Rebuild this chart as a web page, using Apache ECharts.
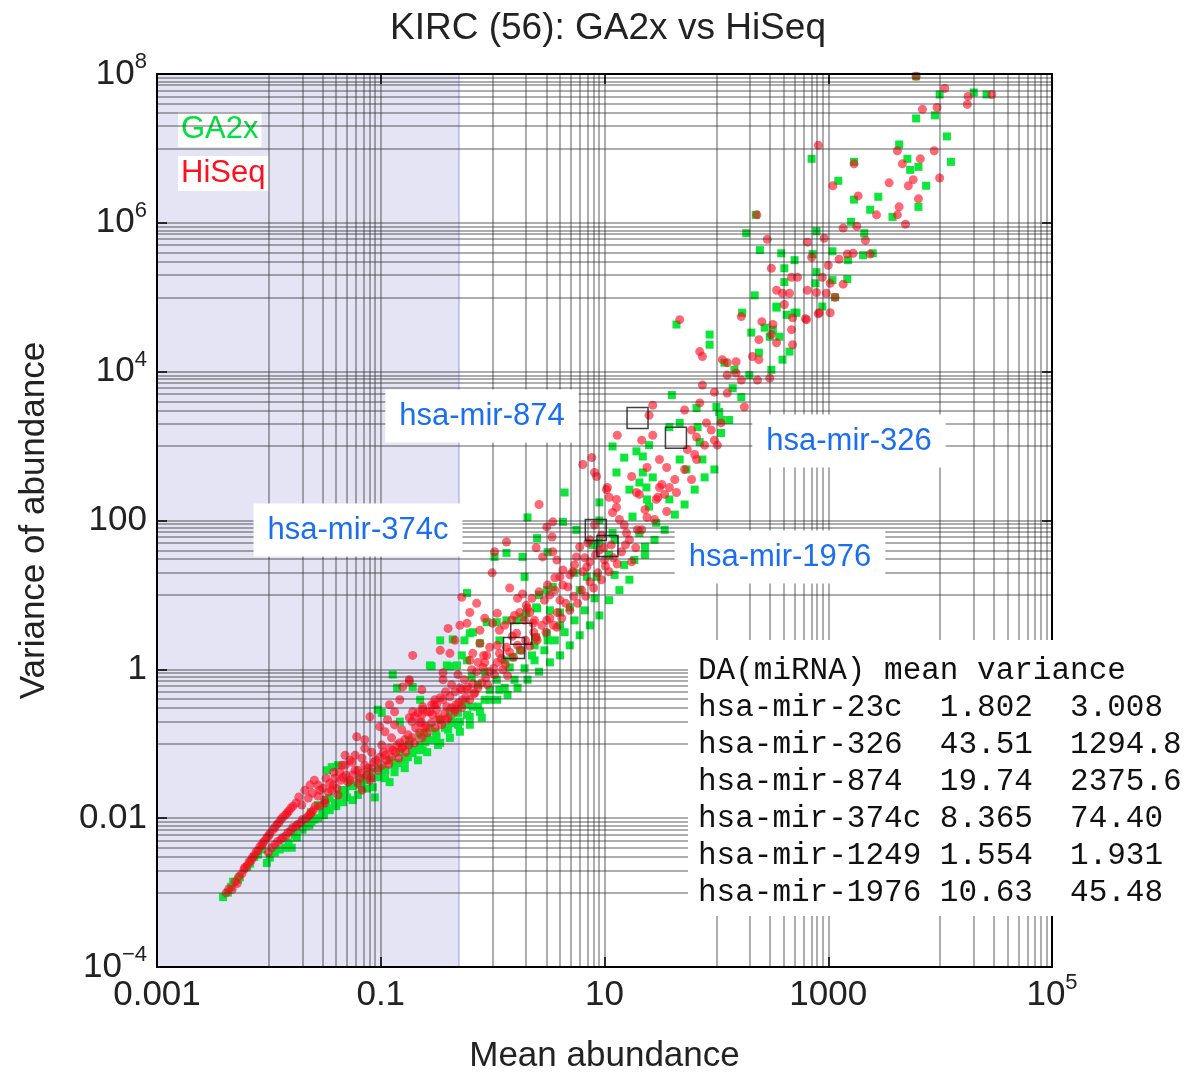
<!DOCTYPE html>
<html><head><meta charset="utf-8">
<script src="https://cdn.jsdelivr.net/npm/echarts@6/dist/echarts.min.js"></script>
<style>html,body{margin:0;padding:0;background:#fff}#c{width:1187px;height:1077px}</style>
</head><body><div id="c"></div>
<script>
// ---- tick labels (exponents of 10 and their texts) ----
const xTickExps = [-3, -1, 1, 3, 5];
const xTickLabels = ['0.001', '0.1', '10', '1000', '10^5'];
const yTickExps = [-4, -2, 0, 2, 4, 6, 8];
const yTickLabels = ['10^-4', '0.01', '1', '100', '10^4', '10^6', '10^8'];
const gridMantissas = [1, 2, 3, 4, 5, 6, 7, 8, 9];
const xMinorDecades = [-2, 0, 2, 4];
const yMinorDecades = [-3, -1, 1, 3, 5, 7];
const shadeUpperMean = 0.5;

// ---- differentially abundant miRNAs ----
const daNames = ['hsa-mir-23c', 'hsa-mir-326', 'hsa-mir-874', 'hsa-mir-374c', 'hsa-mir-1249', 'hsa-mir-1976'];
const daMean = [1.802, 43.51, 19.74, 8.365, 1.554, 10.63];
const daVar = [3.008, 1294.8, 2375.6, 74.40, 1.931, 45.48];
const labelledNames = ['hsa-mir-874', 'hsa-mir-326', 'hsa-mir-374c', 'hsa-mir-1976'];

// ---- GA2x points [mean, variance] ----
const ga2xPoints = [
[3.9e-3,8.7e-4],[4.3e-3,1.0e-3],[4.8e-3,1.4e-3],[5.5e-3,1.6e-3],[6.4e-3,2.2e-3],[7.4e-3,3.0e-3],[8.7e-3,3.8e-3],[9.6e-3,2.5e-3],[1.13e-2,3.45e-3],[1.4e-2,4.0e-3],[1.6e-2,4.0e-3],[1.78e-2,5.5e-3],[2.0e-2,7.0e-3],[2.15e-2,8.0e-3],[2.4e-2,9.0e-3],[2.75e-2,1.0e-2],[3.0e-2,1.2e-2],[3.3e-2,1.36e-2],
[4.6e-3,1.2e-3],[5.3e-3,1.5e-3],[6.8e-3,2.45e-3],[8.0e-3,3.24e-3],[1.02e-2,2.95e-3],[1.25e-2,3.8e-3],[1.5e-2,4.7e-3],[1.7e-2,6.0e-3],[2.3e-2,8.0e-3],[2.55e-2,9.6e-3],[3.1e-2,1.1e-2],[3.5e-2,1.28e-2],[4.0e-2,1.45e-2],[4.6e-2,1.64e-2],
[3.3e-2,4.4e-2],[3.65e-2,4.85e-2],[4.15e-2,5.15e-2],[5.0e-2,1.9e-2],[5.6e-2,1.75e-2],[7.5e-2,2.5e-2],[8.5e-2,2.6e-2],[9.8e-2,3.55e-2],[1.09e-1,4.4e-2],[9.4e-2,2.87e-1],[1.02e-1,2.6e-1],[1.48e-1,1.98e-1],[1.28e-1,8.5e-1],[1.4e-1,5.65e-1],[1.93e-1,5.8e-1],[2.75e-1,1.13],[3.9e-1,1.13],[4.8e-1,1.13],[2.9e-1,1.13e-1],[3.4e-1,1.03e-1],[5.1e-1,1.98e-1],[6.65e-1,3.15e-1],[4.5e-2,2.38e-2],[6.25e-2,2.05e-2],[8.85e-2,1.9e-2],[1.2e-1,3.05e-2],[1.33e-1,5.15e-2],[1.64e-1,6.0e-2],[1.9e-1,7.7e-2],[2.25e-1,9.6e-2],[2.6e-1,1.2e-1],[3.1e-1,1.45e-1],[3.75e-1,1.64e-1],[4.3e-1,2.1e-1],[4.9e-1,2.6e-1],[5.75e-1,3.35e-1],[2.75e-2,1.5e-2],[3.25e-2,1.75e-2],[3.9e-2,1.6e-2],[2.37e-2,1.2e-2],[6.5e-2,2.8e-2],[1.8e-1,1.1e-1],[2.45e-1,1.4e-1],[3.4e-1,2.45],[4.4e-1,2.53],[2.85e-1,1.1],[4.15e-1,1.1],[2.25e-1,3.9e-1],[2.37e-1,8.2e-2],[1.93e-1,7.5e-2],
[4.8e-2,2.38e-2],[5.5e-2,2.69e-2],[7.2e-2,3.24e-2],[8.3e-2,3.45e-2],[1.1e-1,4.42e-2],[1.42e-1,5.5e-2],[1.75e-1,6.6e-2],[2.05e-1,8.2e-2],[2.5e-1,1.06e-1],[3.15e-1,1.24e-1],[4.0e-1,1.54e-1],[4.9e-1,1.8e-1],[6.25e-1,2.3e-1],[7.7e-1,2.69e-1],[9.4e-1,3.9e-1],
[9.4e-1,5.3e-1],[1.1,3.9e-1],[1.36,4.55e-1],[1.67,5.65e-1],[2.05,7.25e-1],[2.6,9.3e-1],[3.25,1.24],[4.0,1.54],[4.9,2.1],[6.0,2.87],[7.4,3.9],[9.0,5.3],[11,8.5],[13.6,11.6],[16.7,16],[4.0,3.9],[3.1,2.45],[2.37,2.1],[1.75,1.8],[1.28,1.32],[8.5e-1,9.3e-1],[7.4e-1,6.2e-1],[5.3e-1,3.35e-1],[4.15e-1,2.69e-1],[3.4e-1,2.1e-1],[2.75e-1,1.64e-1],[2.25e-1,1.32e-1],[1.8e-1,9.6e-2],[1.48e-1,7.7e-2],[1.2e-1,6.0e-2],[9.8e-2,4.7e-2],[8.0e-2,4.15e-2],[6.5e-2,3.45e-2],[5.3e-2,2.95e-2],[3.5e-2,1.86e-2],[4.3e-2,2.05e-2],[6.8e-2,2.53e-2],[1.09e-1,3.45e-2],[1.33e-1,4.15e-2],[1.64e-1,4.7e-2],[2.15e-1,6.0e-2],[2.6e-1,7.7e-2],[3.25e-1,9.6e-2],[4.15e-1,1.2e-1],[5.1e-1,1.45e-1],[6.25e-1,1.8e-1],[8.0e-1,2.24e-1],
[0.59,1.32],[0.53,1.54],[0.65,0.80],[1.09,0.725],[1.15,0.53],[0.85,0.39],[0.74,0.315],[0.59,0.245],[0.44,0.19],[1.42,1.06],[1.5,1.45],[2.25,1.54],[2.45,2.69],[3.05,3.05],[2.0,5.65],[3.25,6.2],[0.885,4.3],[0.625,3.05],[1.64,4.55],[1.15,2.45],[2.5,6.6],[4.4,238],[2.05,110],[4.25,96],[5.6,75],[9.0,50],[11.8,68],[8.5,17.5],[6.95,17.5],[5.4,19.8],[6.0,11.6],[1.93,17.5],[1.33,36.7],[1.04,32.4],[1.85,32.4],[2.5,58],[3.1,37.5],[0.59,10.6],[0.665,3.15],[0.56,2.45],[0.77,2.24],[1.09,4.3],[1.33,4.55],[1.85,5.0],[2.45,6.8],[2.6,10],[3.05,11.6],[3.45,12.8],[4.0,5.8],[4.9,6.8],[7.85,47],[11,34.5],[12.3,55],[9.0,100],
[1.28,0.565],[1.57,0.725],[1.93,1.03],[2.37,1.32],[2.9,1.8],[3.6,2.45],[4.4,3.15],[5.4,4.55],[6.65,6.2],[8.15,9.0],[12.3,18.6],[15,25.3],[18.5,29.5],[23,34.5],[28,55],[34.5,75],[42.5,120],[52,164],[64,260],[78.5,380],[96,485],
[23.7,278],[17.8,113],[20.5,68],[23,44.2],[25,154],[29,93],[38,192],[11.8,990],[15,700],[19.3,850],[22,725],[25,1030],[47,660],[54,485],[75,660],[12.8,442],[22,442],[27,380],[20.5,324],[16.7,260],[24,192],[9.0,175],[38,1800],[47,2050],[68,1800],[71,1130],[66.5,3240],[100,3350],[106,2870],[110,2240],[110,1500],[130,2240],[40,4850],[44,4.3e4],[87,3.15e4],[87,2.3e4],
[220,1.06e5],[170,6.2e4],[345,7.5e4],[425,5.8e4],[520,6.2e4],[320,3.67e4],[270,3.9e4],[300,2.95e4],[365,2.95e4],[390,1.45e4],[310,1.06e4],[205,3.35e4],[240,1.8e4],[450,1.86e4],[118,1.32e4],[145,1.06e4],[197,9000],[140,6000],[167,4550],[245,4.3e5],[225,1.28e6],[185,7.25e5],[380,3.9e5],[405,2.45e5],[500,3.15e5],[725,3.8e5],[1090,4.15e5],[1500,3.15e5],[2050,3.67e5],[2500,3.9e5],[405,1.6e5],[785,2.17e5],[770,1.54e5],[1090,1.7e5],[1480,1.75e5],[885,7.5e4],[345,7.25e4],[500,6.2e4],[785,7.7e5],[1600,1.03e6],[2100,7.25e5],[1150,1.0e5],
[9900,5.3e7],[2.0e4,5.65e7],[2.6e4,5.3e7],[6100,2.53e7],[9000,2.78e7],[1.15e4,1.45e7],[1.25e4,6.6e6],[5100,7.25e6],[4300,1.13e7],[5400,5.15e6],[6400,5.65e6],[7500,3.15e6],[6400,1.64e6],[3750,1.2e6],[2800,2.24e6],[2370,1.5e6],[1700,6.6e6],[1700,2.05e6],[1230,3.67e6],[710,7.25e6],[6100,9.3e7]
];

// ---- HiSeq points [mean, variance] ----
const hiseqPoints = [
[4.7e-3,1.1e-3],[5.2e-3,1.32e-3],[5.75e-3,1.8e-3],[6.1e-3,2.17e-3],[6.65e-3,2.6e-3],[7.1e-3,2.95e-3],[7.7e-3,3.55e-3],[8.3e-3,4.15e-3],[8.85e-3,4.7e-3],[9.6e-3,5.5e-3],[1.02e-2,6.2e-3],[1.09e-2,7.0e-3],[1.18e-2,8.2e-3],[1.28e-2,9.6e-3],[1.4e-2,1.1e-2],[1.5e-2,1.24e-2],[1.64e-2,1.45e-2],[1.85e-2,1.92e-2],[1.06e-2,4.0e-3],[1.2e-2,4.85e-3],[1.33e-2,5.5e-3],[1.48e-2,6.4e-3],[1.64e-2,7.5e-3],[1.8e-2,8.2e-3],[2.0e-2,9.6e-3],[2.25e-2,1.06e-2],[2.4e-2,1.2e-2],[2.6e-2,1.45e-2],
[4.15e-3,9.9e-4],[4.4e-3,1.13e-3],[5.0e-3,1.4e-3],[5.4e-3,1.64e-3],[6.0e-3,2.05e-3],[6.4e-3,2.3e-3],[6.95e-3,2.69e-3],[7.4e-3,3.15e-3],[8.0e-3,3.67e-3],[8.7e-3,4.3e-3],[9.2e-3,5.0e-3],[1.0e-2,5.8e-3],[1.13e-2,7.5e-3],[1.23e-2,8.7e-3],[1.33e-2,1.03e-2],[1.45e-2,1.16e-2],[1.57e-2,1.36e-2],[1.75e-2,1.6e-2],
[9.9e-3,3.45e-3],[1.13e-2,4.42e-3],[1.28e-2,5.15e-3],[1.42e-2,5.8e-3],[1.57e-2,6.8e-3],[1.75e-2,7.7e-3],[1.93e-2,8.7e-3],[2.15e-2,1.0e-2],[2.33e-2,1.13e-2],[2.5e-2,1.28e-2],[2.85e-2,1.45e-2],[3.15e-2,1.6e-2],
[2.1e-2,2.38e-2],[2.33e-2,2.78e-2],[2.55e-2,3.24e-2],[2.85e-2,2.38e-2],[3.15e-2,1.75e-2],[3.5e-2,2.95e-2],[3.9e-2,3.45e-2],[4.3e-2,4.15e-2],[4.6e-2,3.55e-2],[5.1e-2,3.05e-2],[5.6e-2,3.8e-2],[6.25e-2,4.42e-2],[6.5e-2,3.45e-2],[7.2e-2,5.15e-2],[7.5e-2,3.8e-2],[8.3e-2,4.7e-2],[9.0e-2,6.0e-2],[9.8e-2,6.6e-2],[1.06e-1,7.7e-2],[1.13e-1,6.0e-2],[1.2e-1,8.7e-2],[1.28e-1,8.2e-2],[1.4e-1,9.6e-2],[1.48e-1,1.03e-1],[1.64e-1,1.13e-1],[1.75e-1,1.32e-1],[1.8e-1,2.24e-1],[1.93e-1,2.69e-1],[2.05e-1,1.64e-1],[2.15e-1,2.6e-1],[2.3e-1,1.98e-1],[2.37e-1,3.15e-1],[2.55e-1,1.7e-1],[2.75e-1,2.69e-1],[2.9e-1,2.45e-1],[3.15e-1,3.35e-1],[3.4e-1,2.1e-1],[3.6e-1,3.9e-1],[3.9e-1,3.15e-1],[4.15e-1,4.3e-1],[4.6e-1,5.0e-1],[4.7e-1,3.35e-1],[5.1e-1,5.65e-1],[5.4e-1,3.9e-1],[5.9e-1,5.3e-1],[6.65e-1,6.4e-1],[6.1e-2,1.24e-1],[7.2e-2,1.13e-1],[8.0e-2,2.3e-1],[9.8e-2,1.7e-1],[1.09e-1,1.45e-1],[1.2e-1,3.35e-1],[1.33e-1,1.8e-1],[1.48e-1,3.9e-1],[1.57e-1,5.8e-1],[1.8e-1,7.25e-1],[2.33e-1,5.3e-1],[3.6e-1,9.0e-1],[5.3e-2,6.0e-2],[4.8e-2,5.15e-2],[3.65e-2,2.38e-2],[4.15e-2,2.05e-2],[6.8e-2,2.38e-2],[8.0e-2,3.24e-2],[5.9e-2,7.0e-2],[1.93e-1,1.54],[4.0e-1,3.55],[3.4e-1,1.8],[4.15e-1,1.64],[1.8e-1,6.8e-1],[2.25e-1,1.92e-1],[1.57e-1,9.0e-2],[2.0e-1,2.3e-1],[3.05e-1,3.9e-1],[2.37e-1,2.87e-1],[3.9e-1,2.1e-1],[3.15e-1,2.87e-1],
[1.97e-2,1.5e-2],[2.25e-2,1.86e-2],[2.45e-2,2.17e-2],[2.75e-2,1.98e-2],[3.05e-2,2.53e-2],[3.4e-2,2.24e-2],[3.75e-2,2.78e-2],[4.05e-2,2.53e-2],[4.4e-2,3.24e-2],[4.9e-2,3.8e-2],[5.3e-2,3.24e-2],[5.9e-2,4.42e-2],[6.25e-2,2.95e-2],[6.8e-2,4.0e-2],[7.7e-2,4.7e-2],[8.15e-2,3.55e-2],[8.7e-2,5.65e-2],[9.4e-2,4.42e-2],[1.02e-1,5.15e-2],[1.1e-1,7.0e-2],[1.18e-1,5.3e-2],[1.25e-1,6.6e-2],[1.36e-1,7.7e-2],[1.45e-1,6.4e-2],[1.54e-1,8.7e-2],[1.67e-1,7.7e-2],[1.78e-1,9.6e-2],[1.9e-1,1.2e-1],[2.0e-1,1.03e-1],[2.2e-1,1.4e-1],[2.33e-1,1.2e-1],[2.45e-1,1.64e-1],[2.6e-1,1.4e-1],[2.85e-1,1.92e-1],[3.05e-1,1.64e-1],[3.3e-1,2.24e-1],[3.5e-1,1.8e-1],[3.75e-1,2.6e-1],[4.0e-1,2.24e-1],[4.3e-1,3.05e-1],[4.6e-1,2.69e-1],[5.0e-1,3.55e-1],[5.3e-1,3.05e-1],[5.75e-1,4.15e-1],[6.25e-1,3.9e-1],[6.8e-1,4.7e-1],[7.4e-1,5.65e-1],[8.0e-1,6.6e-1],[8.7e-1,7.7e-1],[9.4e-1,9.3e-1],[1.02,1.03],[1.1,1.24],
[5.6e-1,7.25e-1],[6.5e-1,9.9e-1],[7.4e-1,1.24],[8.3e-1,1.54],[6.25e-1,1.32],[4.9e-1,8.5e-1],[4.3e-1,6.2e-1],[3.8e-1,5.0e-1],[3.4e-1,4.15e-1],[3.0e-1,3.35e-1],[2.6e-1,2.69e-1],[5.3e-1,5.3e-1],[6.95e-1,4.85e-1],[9.0e-1,6.2e-1],[1.04,8.5e-1],[1.23,9.9e-1],[1.36,8.2e-1],[1.15,3.35],[1.28,3.9],[1.48,4.55],[1.75,5.8],[2.0,7.25],[2.25,9.0],[2.6,11],[3.1,13.6],[3.6,17],[4.25,13.6],[4.9,18.6],[5.4,25.3],[6.4,20.5],[7.4,27.8],[8.3,34.5],[9.9,43],[6.25e-1,5.8],[8.5e-1,4.85],[4.6e-1,2.45],[5.1e-1,3.9],
[2.75e-2,2.78e-2],[3.25e-2,3.45e-2],[3.8e-2,4.15e-2],[4.5e-2,5.15e-2],[5.5e-2,5.65e-2],[6.8e-2,6.4e-2],[8.3e-2,7.7e-2],[1.02e-1,9.6e-2],[1.25e-1,1.2e-1],[1.54e-1,1.54e-1],[1.9e-1,1.98e-1],[2.33e-1,2.45e-1],[2.85e-1,3.35e-1],[4.8e-2,7.0e-2],[7.2e-2,8.7e-2],[1.15e-1,2.1e-1],[1.33e-1,2.69e-1],
[0.72,7.7],[1.1,5.65],[1.57,5.3],[0.59,4.15],[0.77,3.35],[1.0,4.15],[2.05,6.6],[2.3,4.15],[3.05,4.55],[3.75,3.67],[2.45,2.69],[1.64,3.05],[0.85,1.24],[0.885,1.54],[0.72,0.93],[0.6,0.58],[0.46,0.287],[0.94,1.98],[1.15,1.64],[1.33,1.98],[0.665,1.64],[0.77,2.24],[0.36,0.725],[0.82,1.06],[0.53,9.3],[0.99,19.8],[1.04,38],[1.33,51.5],[1.42,12.4],[1.67,9.0],[1.85,10.3],[2.37,4.55],[2.45,43],[2.6,164],[2.8,32.4],[3.05,82],[3.4,60],[3.45,96],[3.75,29.5],[4.0,17.5],[4.0,8.5],[4.25,21.7],[4.7,12.8],[5.2,20.5],[5.6,32.4],[6.0,44.2],[6.65,31.5],[6.95,23.8],[7.1,50],[3.45,38],[7.4,55],[9.0,40],[10,29.5],[11.5,47],[8.15,87],[9.4,64],[1.1,2.1],[1.5,2.78],[1.93,4.55],[2.15,5.8],[2.9,8.5],[3.25,10],[3.6,11.6],
[1.2,1.4],[1.3,1.16],[1.42,1.7],[1.54,1.45],[1.67,2.1],[1.8,1.8],[1.97,2.45],[2.15,2.05],[2.33,3.15],[2.5,2.45],[2.75,3.9],[3.0,3.15],[3.25,4.85],[3.5,3.9],[3.8,5.8],[4.15,4.85],[4.5,7.7],[4.9,6.2],[5.3,9.6],[5.75,7.7],[6.25,11.6],[6.8,9.6],[7.4,15],[8.0,12.4],[8.7,19.8],[9.4,16],[10.2,24.5],[11,20.5],[12,31.5],[13,26],[14.2,38],[15.4,47],[16.7,55],[19,43],[21.5,75],
[10.4,260],[11,205],[11.8,128],[12.8,150],[13.6,103],[15.7,68],[17.5,27.8],[19.7,75],[20.5,224],[24,110],[30,205],[31,278],[36,132],[13,1400],[21.5,1200],[27,1400],[55,900],[66.5,660],[60,355],[7.7,700],[8.5,390],[10.6,278],[17.5,390],[24,515],[31,660],[36,515],[32.5,305],[38,278],[44,238],[19.3,238],[12.8,192],[29,192],[27,3550],[25,2600],[52,3050],[60,1640],[66.5,1320],[71,3800],[81.5,2050],[47,5.0e4],[71,1.86e4],[75,1.6e4],[75,6600],[96,5300],[96,1200],[110,2050],[6.4,565],[8.15,442],
[15,87],[23,140],[28,103],[34.5,224],[42.5,355],[52,485],[64,770],[78.5,1030],[90,1640],[102,1030],
[167,5.5e4],[113,1.45e4],[125,1.32e4],[150,1.36e4],[210,1.6e4],[240,1.45e4],[255,4.7e4],[320,4.3e4],[470,3.67e4],[480,2.3e4],[345,2.45e4],[240,2.69e4],[640,5.0e4],[150,9600],[125,9000],[233,7700],[300,8200],[167,7700],[125,5150],[178,3350],[310,2.45e5],[1000,2.69e5],[530,1.86e5],[345,1.24e5],[450,1.13e5],[650,1.24e5],[785,1.16e5],[960,1.13e5],[1040,6.2e4],[830,6.2e4],[710,3.45e5],[1250,3.24e5],[1480,3.8e5],[1670,3.9e5],[2370,3.8e5],[470,1.86e5],[390,1.13e5],[885,1.86e5],[1040,1.54e5],[1150,1.0e5],[1360,1.5e5],[815,6.0e4],[405,8.0e4],[480,5.3e4],[625,5.15e4],[310,3.15e4],[285,6.0e5],[230,1.28e6],[920,6.2e5],[650,5.5e5],[1800,9.0e5],[1360,8.5e5],[2150,5.8e5],
[1.1e4,6.4e7],[1.78e4,5.0e7],[2.9e4,5.3e7],[1.75e4,3.9e7],[6950,3.35e7],[9400,3.55e7],[9900,4.0e6],[8850,9.3e6],[6650,7.25e6],[4150,9.3e6],[4600,6.2e6],[5750,3.8e6],[5200,3.15e6],[3500,3.45e6],[6400,2.1e6],[4300,1.64e6],[4150,1.28e6],[4900,9.6e5],[2700,1.28e6],[1700,6.2e6],[1850,2.3e6],[1100,3.15e6],[815,1.1e7],[6100,9.3e7]
];

// ---------------- build ----------------
const FONT = '"Liberation Sans", Arial, Helvetica, sans-serif';
const lg = v => Math.log10(v);
const toXY = pts => pts.map(p => [lg(p[0]), lg(p[1])]);

function tickFormatter(exps, labels) {
  return function (v) {
    const i = exps.findIndex(e => Math.abs(e - v) < 1e-6);
    if (i < 0) return '';
    const s = labels[i];
    const k = s.indexOf('^');
    if (k < 0) return '{b|' + s + '}';
    return '{b|' + s.slice(0, k) + '}{s|' + s.slice(k + 1).replace('-', '\u2212') + '}';
  };
}
const richTick = {
  b: { fontSize: 35, fontFamily: FONT, color: '#222', lineHeight: 46 },
  s: { fontSize: 22, fontFamily: FONT, color: '#222', lineHeight: 24, verticalAlign: 'top' }
};

const gridLines = [];
xMinorDecades.forEach(k => gridMantissas.forEach(m => gridLines.push({ xAxis: k + lg(m) })));
yMinorDecades.forEach(k => gridMantissas.forEach(m => gridLines.push({ yAxis: k + lg(m) })));
xTickExps.slice(1, -1).forEach(e => gridLines.push({ xAxis: e }));
yTickExps.slice(1, -1).forEach(e => gridLines.push({ yAxis: e }));

const fmtMean = v => v.toPrecision(4);
const fmtVar = v => (v >= 1000 ? v.toFixed(1) : v.toPrecision(4));
const tableText = ['DA(miRNA) mean variance'].concat(
  daNames.map((n, i) => n.padEnd(13) + fmtMean(daMean[i]).padEnd(7) + fmtVar(daVar[i]))
).join('\n');

// annotation box centres (layout only)
const annotCentres = { 'hsa-mir-874': [482, 416], 'hsa-mir-326': [849, 441], 'hsa-mir-374c': [358, 530], 'hsa-mir-1976': [780, 557] };

const axisCommon = {
  type: 'value', z: 10,
  axisLine: { show: true, onZero: false, lineStyle: { color: '#000', width: 2 } },
  axisTick: { show: true, inside: true, length: 10, lineStyle: { color: '#000', width: 1.5 } },
  splitLine: { show: false }
};

const chart = echarts.init(document.getElementById('c'), null, { renderer: 'canvas' });
chart.setOption({
  animation: false,
  backgroundColor: '#fff',
  title: {
    text: 'KIRC (56): GA2x vs HiSeq', left: 603, textAlign: 'center', top: 5,
    textStyle: { fontSize: 37, fontWeight: 'normal', color: '#222', fontFamily: FONT }
  },
  legend: {
    orient: 'vertical', left: 168, top: 107, itemWidth: 0, itemHeight: 0, itemGap: 9,
    selectedMode: false,
    textStyle: { fontSize: 31, fontFamily: FONT, backgroundColor: '#fff', padding: [3, 3, 1, 3] },
    data: [
      { name: 'GA2x', textStyle: { color: '#00e040' } },
      { name: 'HiSeq', textStyle: { color: '#ff1020' } }
    ]
  },
  grid: { left: 157, right: 135, top: 74, bottom: 110, containLabel: false, outerBoundsMode: 'none' },
  xAxis: [
    Object.assign({}, axisCommon, {
      position: 'bottom', min: -3, max: 5, interval: 2,
      name: 'Mean abundance', nameLocation: 'middle', nameGap: 72,
      nameTextStyle: { fontSize: 35, fontFamily: FONT, color: '#222' },
      axisLabel: { margin: 5, formatter: tickFormatter(xTickExps, xTickLabels), rich: richTick }
    }),
    Object.assign({}, axisCommon, { position: 'top', min: -3, max: 5, interval: 2, axisLabel: { show: false } })
  ],
  yAxis: [
    Object.assign({}, axisCommon, {
      position: 'left', min: -4, max: 8, interval: 2,
      name: 'Variance of abundance', nameLocation: 'middle', nameGap: 105,
      nameTextStyle: { fontSize: 35, fontFamily: FONT, color: '#222' },
      axisLabel: { margin: 10, formatter: tickFormatter(yTickExps, yTickLabels), rich: richTick }
    }),
    Object.assign({}, axisCommon, { position: 'right', min: -4, max: 8, interval: 2, axisLabel: { show: false } })
  ],
  series: [
    {
      name: 'shade', type: 'scatter', data: [], z: 1, silent: true,
      markArea: {
        silent: true,
        itemStyle: { color: '#e4e4f5', borderColor: '#b4b8f2', borderWidth: 1.5 },
        data: [[{ xAxis: -3 }, { xAxis: lg(shadeUpperMean) }]]
      }
    },
    {
      name: 'grid', type: 'scatter', data: [], z: 2, silent: true,
      markLine: {
        silent: true, symbol: ['none', 'none'], label: { show: false },
        lineStyle: { color: 'rgba(40,40,40,0.5)', width: 1.5, type: 'solid' },
        emphasis: { disabled: true },
        data: gridLines
      }
    },
    {
      name: 'GA2x', type: 'scatter', z: 3, symbol: 'rect', symbolSize: 8,
      itemStyle: { color: '#00e632', opacity: 0.95 },
      data: toXY(ga2xPoints)
    },
    {
      name: 'HiSeq', type: 'scatter', z: 4, symbol: 'circle', symbolSize: 9,
      itemStyle: { color: '#ff0a1e', opacity: 0.62 },
      data: toXY(hiseqPoints)
    },
    {
      name: 'DA miRNA', type: 'scatter', z: 5, symbol: 'rect', symbolSize: 21,
      itemStyle: { color: 'rgba(0,0,0,0)', borderColor: '#111', borderWidth: 1.5 },
      data: daNames.map((n, i) => ({ name: n, value: [lg(daMean[i]), lg(daVar[i])] }))
    }
  ],
  graphic: [
    ...labelledNames.map(n => ({
      type: 'text', z: 100, x: annotCentres[n][0], y: annotCentres[n][1],
      style: {
        text: n, font: '31px ' + FONT, fill: '#1a6ef0',
        align: 'center', verticalAlign: 'middle', textAlign: 'center', textVerticalAlign: 'middle',
        backgroundColor: '#fff', padding: [11, 14, 11, 14]
      }
    })),
    { type: 'rect', z: 100, shape: { x: 688, y: 640, width: 499, height: 276 }, style: { fill: '#fff' } },
    {
      type: 'text', z: 101, x: 698, y: 652,
      style: { text: tableText, font: '31px "Liberation Mono", "Courier New", monospace', fill: '#111', lineHeight: 37 }
    }
  ]
});
</script>
</body></html>
